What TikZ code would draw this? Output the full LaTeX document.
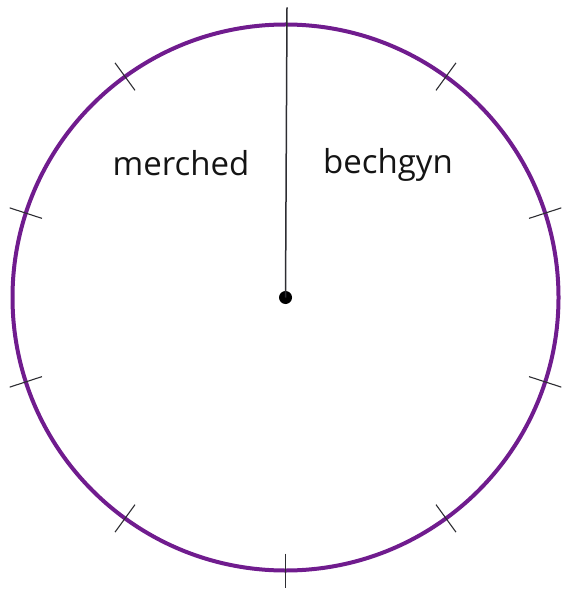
\documentclass[tikz,border=0pt]{standalone}
\usepackage{fontspec}
\setmainfont{Open Sans}
\usepackage{tikz}
\usetikzlibrary{positioning, calc}
\definecolor{rimc}{RGB}{112,28,142}
\definecolor{tickc}{RGB}{45,45,50}

\begin{document}
\begin{tikzpicture}[x=1pt, y=-1pt,
  % labels of the two halves
  halflabel/.style={font=\fontsize{33pt}{38pt}\selectfont, text=black!92, inner sep=0pt},
  tickmark/.style={draw=tickc, line width=1.1pt},
]
\useasboundingbox (0,0) rectangle (567,593);

%% ── rim ──────────────────────────────────────────────────────────
\coordinate (mid) at (285.5,297.5);
\draw[rimc, line width=4pt] (mid) circle[radius=273];

%% ── ticks every 36 degrees (the top one is the hand) ─────────────
\foreach \k in {1,...,9}{
  \draw[tickmark] ($(mid)+({270+36*\k}:256)$) -- ($(mid)+({270+36*\k}:290)$);
}

%% ── hand from the hub up past the rim ───────────────────────────
\coordinate (tip) at ($(mid)+(1.5,-290)$);
\node[circle, fill=black, inner sep=0pt, minimum size=13pt] (hub) at (mid) {};
\draw[tickc, line width=1.5pt] (hub.center) -- (tip);

%% ── labels ──────────────────────────────────────────────────────
\node[halflabel] (merched) at (181,163) {merched};
\node[halflabel] (bechgyn) at (388,165) {bechgyn};

\end{tikzpicture}
\end{document}
